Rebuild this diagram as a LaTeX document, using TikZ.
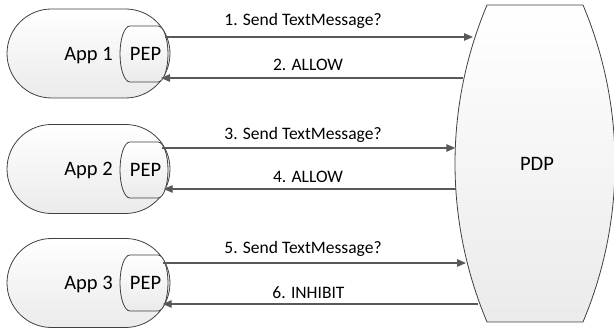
\documentclass[tikz,border=0pt]{standalone}
\usepackage{fontspec}
\setmainfont{Carlito}
\usetikzlibrary{shapes.misc,arrows.meta}
\definecolor{edge}{HTML}{404040}
\definecolor{arr}{HTML}{595959}
\tikzset{
  shapefill/.style={draw=edge, line width=0.8pt, top color=white, bottom color=black!8},
  bigtext/.style={font=\fontsize{20.5}{24}\selectfont, text depth=0pt, inner sep=0pt},
  appbox/.style={rounded rectangle, shapefill, bigtext, minimum width=163pt, minimum height=89pt},
  msg/.style={draw=arr, line width=1.3pt, -{Triangle[length=9pt,width=7.5pt]}},
  lbl/.style={anchor=base, inner sep=0pt, font=\fontsize{17.5}{21}\selectfont}
}
\newcommand\pepshape[3]{%
  \path[shapefill] (#1-14,#2+28) -- (#1+14,#2+28)
    arc[start angle=90, end angle=-90, x radius=10pt, y radius=28pt]
    -- (#1-14,#2-28)
    arc[start angle=270, end angle=90, x radius=10pt, y radius=28pt] -- cycle;
  \node[bigtext] (#3) at (#1+1.5,#2) {PEP};}
\begin{document}
\begin{tikzpicture}[x=1pt,y=1pt]
\useasboundingbox (0,0) rectangle (614,331);
% apps
\node[appbox] (app1) at (88.5,277.5) {App 1};
\node[appbox] (app2) at (88.5,162) {App 2};
\node[appbox] (app3) at (88.5,48) {App 3};
\pepshape{144}{277}{pep1}
\pepshape{144}{161}{pep2}
\pepshape{144}{48}{pep3}
% PDP
\path[shapefill] (487,326) -- (583,326)
  arc[start angle=22.83, end angle=-22.83, radius=408.5pt]
  -- (487,9)
  arc[start angle=202.83, end angle=157.17, radius=408.5pt] -- cycle;
\node[bigtext] (pdp) at (537,167.5) {PDP};
% connector end points
\coordinate (a1) at (164.6,294); \coordinate (b1) at (473,294);
\coordinate (a2) at (161,253);   \coordinate (b2) at (463,253);
\coordinate (a3) at (162.1,183); \coordinate (b3) at (455.3,183);
\coordinate (a4) at (163.7,142); \coordinate (b4) at (455.8,142);
\coordinate (a5) at (163.2,68);  \coordinate (b5) at (466,68);
\coordinate (a6) at (162.7,27);  \coordinate (b6) at (478,27);
\draw[msg] (a1) -- (b1);
\draw[msg] (b2) -- (a2);
\draw[msg] (a3) -- (b3);
\draw[msg] (b4) -- (a4);
\draw[msg] (a5) -- (b5);
\draw[msg] (b6) -- (a6);
\node[lbl] (l1) at (303,305) {1. Send TextMessage?};
\node[lbl] (l2) at (308,260) {2. ALLOW};
\node[lbl] (l3) at (303,191.7) {3. Send TextMessage?};
\node[lbl] (l4) at (308,148.3) {4. ALLOW};
\node[lbl] (l5) at (303,77.7) {5. Send TextMessage?};
\node[lbl] (l6) at (308.5,32.7) {6. INHIBIT};
\end{tikzpicture}
\end{document}
